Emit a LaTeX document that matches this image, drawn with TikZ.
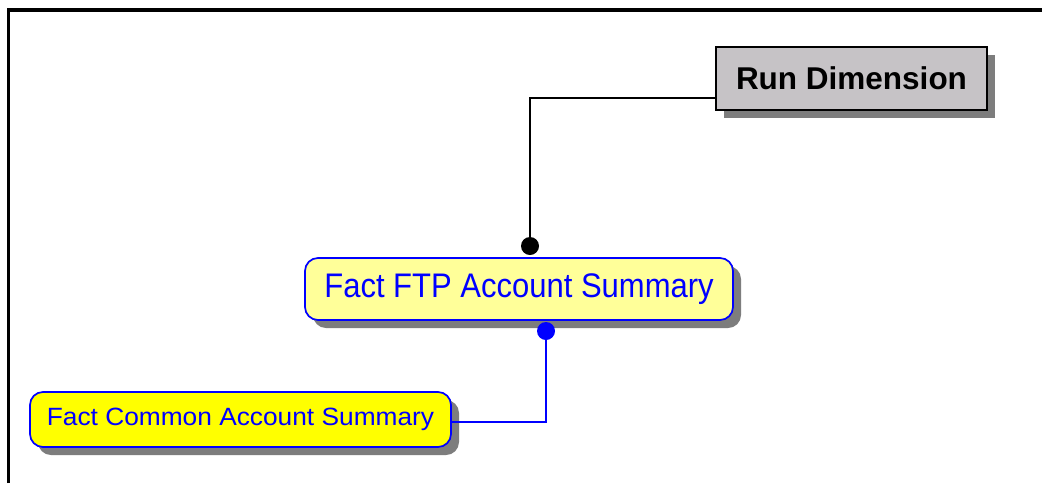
\documentclass[tikz,border=0pt]{standalone}
\usepackage{fontspec}
\setmainfont{Liberation Sans}
\usetikzlibrary{shadows}
\definecolor{dimgray}{RGB}{198,195,198}
\definecolor{factyellow}{RGB}{255,255,153}
\definecolor{brightyellow}{RGB}{255,255,0}
\definecolor{entblue}{RGB}{0,0,255}
\definecolor{shadowgray}{RGB}{125,125,125}
\tikzset{
  shd/.style={drop shadow={shadow xshift=8pt, shadow yshift=-8pt, fill=shadowgray, opacity=1}},
  dimbox/.style={shd, draw=black, line width=2pt, fill=dimgray, rectangle, inner sep=0pt},
  factbox/.style={shd, draw=entblue, line width=1.7pt, rounded corners=13pt, inner sep=0pt, text=entblue},
  blackline/.style={draw=black, line width=1.8pt},
  blueline/.style={draw=entblue, line width=1.8pt},
  frameline/.style={draw=black, line width=3.5pt},
}
\begin{document}
\begin{tikzpicture}[x=1pt,y=-1pt]
\useasboundingbox (0,0) rectangle (1042,483);
\fill[white] (0,0) rectangle (1042,483);
\draw[frameline] (8.5,483) -- (8.5,10) -- (1042,10);

\node[dimbox, minimum width=271pt, minimum height=63pt] (run) at (851.5,78.5)
  {\fontsize{31.5pt}{36pt}\selectfont\bfseries Run Dimension};
\node[factbox, fill=factyellow, minimum width=428pt, minimum height=62pt] (ftp) at (519,289)
  {\scalebox{1}[1.1]{\fontsize{31pt}{36pt}\selectfont Fact FTP Account Summary}};
\node[factbox, fill=brightyellow, minimum width=421pt, minimum height=55pt] (common) at (240.5,419.5)
  {\scalebox{1}[0.95]{\fontsize{26.3pt}{30pt}\selectfont Fact Common Account Summary}};

\coordinate (bdot) at (530,246);
\coordinate (bcorner) at (530,98);
\coordinate (udot) at (546,331);
\coordinate (ucorner) at (546,422);

\draw[blackline] (run.west |- bcorner) -- (bcorner) -- (bdot);
\fill[black] (bdot) circle (9pt);
\draw[blueline] (udot) -- (ucorner) -- (common.east |- ucorner);
\fill[entblue] (udot) circle (9pt);
\end{tikzpicture}
\end{document}
